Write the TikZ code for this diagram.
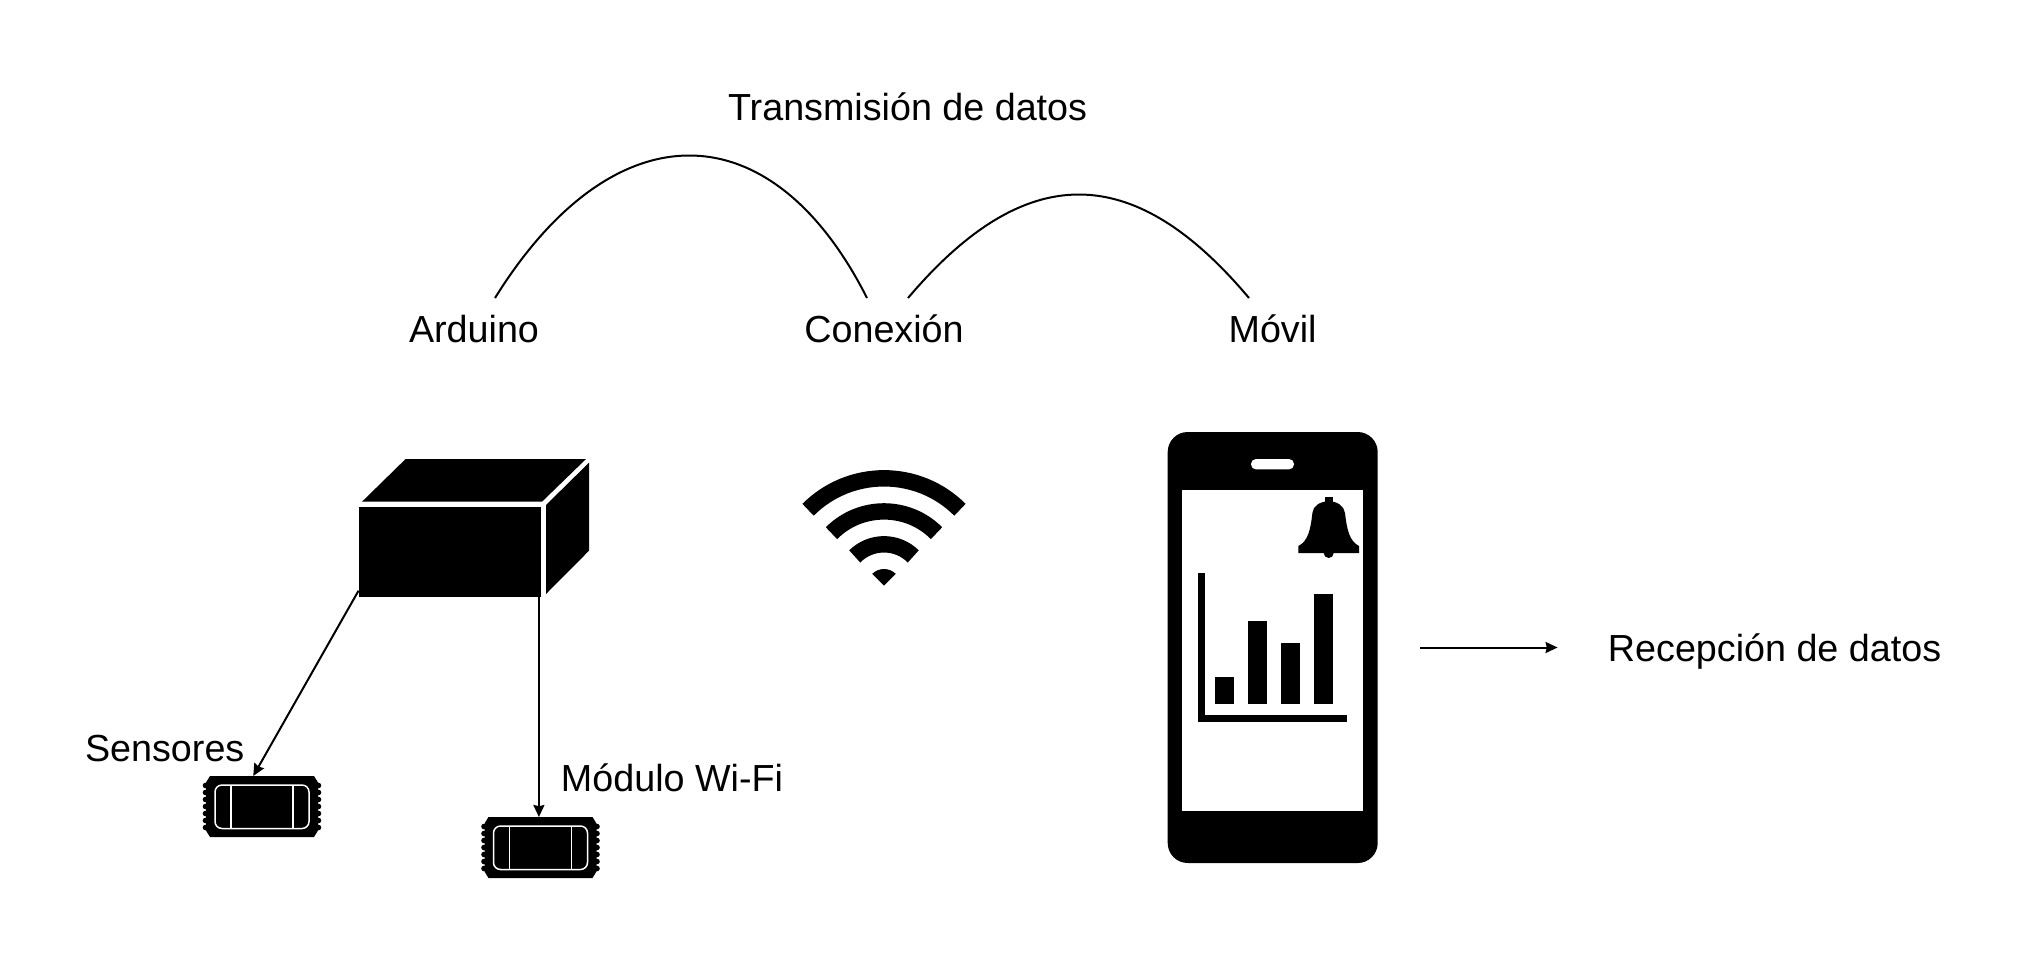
\documentclass[tikz,border=0pt]{standalone}
\usepackage{fontspec}
\setmainfont{Liberation Sans}
\usepackage{tikz}
\usetikzlibrary{arrows.meta, positioning, calc}

\begin{document}
\begin{tikzpicture}[
    x=0.5pt, y=-0.5pt,
    label/.style={font=\fontsize{18.85}{24}\selectfont, anchor=base, inner sep=0pt},
    link/.style={-{Stealth[length=6pt, width=5.5pt, inset=0.6pt]}, line width=1pt},
    hop/.style={line width=1pt},
    face/.style={fill=black, draw=none},
    wifiarc/.style={line width=8.2pt, black},
    chipslot/.style={rectangle, minimum width=58.75pt, minimum height=30.5pt, inner sep=0pt, outer sep=0pt},
    chipicon/.pic={
        \fill (-52,-30.5) -- (52,-30.5) -- (56,-24) -- (56,24) -- (52,30.5) -- (-52,30.5) -- (-56,24) -- (-56,-24) -- cycle;
        \foreach \ty in {-21,-14,...,21} {
            \fill (-56.5,\ty) circle (1.4pt);
            \fill (56.5,\ty) circle (1.4pt);
        }
        \draw[white, line width=0.75pt, rounded corners=3.5pt] (-47,-21.5) rectangle (47,22);
        \draw[white, line width=0.75pt] (-31,-21.5) -- (-31,22);
        \draw[white, line width=0.75pt] (31,-21.5) -- (31,22);
    }
]
\useasboundingbox (0,0) rectangle (2026,955);

% Labels on top
\node[label] (transmision) at (907.6,120.7) {Transmisión de datos};
\node[label] (arduino) at (474,342) {Arduino};
\node[label] (conexion) at (884,342) {Conexión};
\node[label] (movil) at (1272.6,342) {Móvil};

% Hops between the labels
\coordinate (hopA) at (495,298);
\coordinate (hopB) at (867,298);
\coordinate (hopC) at (908,298);
\coordinate (hopD) at (1249,298);
\draw[hop] (hopA) .. controls (613,108) and (771,108) .. (hopB);
\draw[hop] (hopC) .. controls (1025,160) and (1133,160) .. (hopD);

% Arduino box
\node[rectangle, fill=black, minimum width=91.25pt, minimum height=45pt, inner sep=0pt, outer sep=0pt] (arduinobox) at (449.75,552) {};
\fill[face] (362,501.7) -- (405.6,459) -- (586,459) -- (542,501.7) -- cycle;
\fill[face] (589,462.7) -- (589,550.7) -- (546,594) -- (546,505) -- cycle;

% Sensors and Wi-Fi module
\pic at (262,806.5) {chipicon};
\node[chipslot] (sensorchip) at (262,806.5) {};
\pic at (540.5,847.5) {chipicon};
\node[chipslot] (modulechip) at (540.5,847.5) {};
\node[label] (sensores) at (164.7,761) {Sensores};
\node[label] (modulo) at (672,791) {Módulo Wi-Fi};
\draw[link] (arduinobox.203.7) -- (sensorchip.106);
\draw[link] (modulechip.93.75 |- arduinobox.south) -- (modulechip.93.75);

% Wi-Fi symbol
\coordinate (wifi) at (884,585.7);
\foreach \rr in {107.4,74.3,41.4} {
    \draw[wifiarc] (wifi) ++(-45:\rr) arc[start angle=-45, end angle=-135, radius=\rr];
}
\fill (wifi) -- ++(-45:16.7) arc[start angle=-45, end angle=-135, radius=16.7] -- cycle;

% Phone
\node[rectangle, fill=black, rounded corners=10pt, minimum width=105pt, minimum height=215.5pt, inner sep=0pt] (phone) at (1272.7,647.5) {};
\node[rectangle, fill=white, minimum width=90.5pt, minimum height=160.4pt, inner sep=0pt] (screen) at (1272.5,650.6) {};
\node[rectangle, fill=white, rounded corners=2.5pt, minimum width=21.5pt, minimum height=5.2pt, inner sep=0pt] (speaker) at (1272.5,464.2) {};

% Bell
\fill (1324.7,497.3) rectangle (1332.7,503);
\fill (1328.7,553) circle (2.5pt);
\fill (1298.4,553) -- (1298.4,546) .. controls (1308,541) and (1310.5,530) .. (1312.4,513)
    .. controls (1313,506) and (1320,501.3) .. (1328.7,501.3)
    .. controls (1337.4,501.3) and (1344,506) .. (1345,513)
    .. controls (1347,530) and (1349.4,541) .. (1359,546) -- (1359,553) -- cycle;

% Bar chart
\draw[line width=3.3pt] (1201.5,573) -- (1201.5,718.5) -- (1347,718.5);
\fill (1215,677) rectangle (1234,704);
\fill (1248,621) rectangle (1267,704);
\fill (1281,643) rectangle (1300,704);
\fill (1314,594) rectangle (1333,704);

% Reception
\node[label] (recepcion) at (1774.6,661) {Recepción de datos};
\coordinate (recepcionstart) at (1420,647.5);
\draw[link, shorten >=25pt] (recepcionstart) -- (recepcionstart -| recepcion.west);

\end{tikzpicture}
\end{document}
